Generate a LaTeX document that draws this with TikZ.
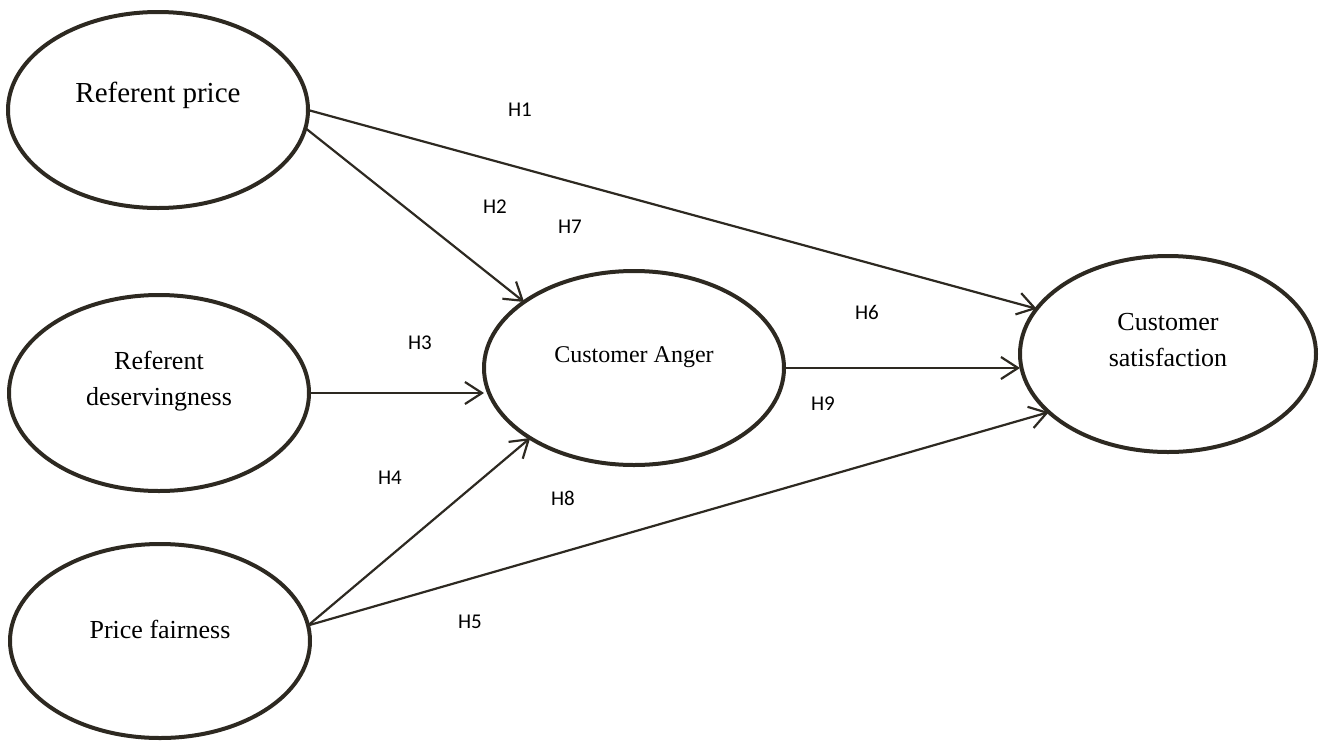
\documentclass[tikz,border=0pt]{standalone}
\usepackage{fontspec}
\setmainfont{Liberation Serif}
\newfontfamily\hfont{Carlito}
\usetikzlibrary{shapes.geometric,arrows.meta}
\definecolor{ink}{RGB}{45,41,33}
\tikzset{
  var/.style={ellipse,draw=ink,line width=4pt,inner sep=0pt,outer sep=0pt,
    minimum width=300pt,minimum height=196pt},
  vartext/.style={align=center,font=\fontsize{26}{36}\selectfont},
  hyp/.style={font=\hfont\fontsize{21}{25}\selectfont},
  link/.style={draw=ink,line width=2.2pt,->},
}
\begin{document}
\begin{tikzpicture}[x=1pt,y=-1pt,>={Straight Barb[length=17pt,width=22pt]},line join=bevel]
  \useasboundingbox (0,0) rectangle (1320,742);
  % Node: Referent price
  \node[var] (rp) at (158,110) {};
  \node[vartext,font=\fontsize{29}{35}\selectfont] at (158,95) {Referent price};
  % Node: Referent deservingness
  \node[var] (rd) at (159,393) {};
  \node[vartext] at (159,381) {Referent\\deservingness};
  % Node: Price fairness
  \node[var,minimum height=194pt] (pf) at (160,641) {};
  \node[vartext] at (160,629) {Price fairness};
  % Node: Customer Anger
  \node[var,minimum height=194pt] (ca) at (634,368) {};
  \node[vartext,font=\fontsize{24}{30}\selectfont] at (634,357) {Customer Anger};
  % Node: Customer satisfaction
  \node[var,minimum width=296pt] (cs) at (1168,354) {};
  \node[vartext] at (1168,340) {Customer\\satisfaction};
  % Edge: Referent price -> Customer satisfaction
  \draw[link] (rp.east) -- (cs.161);
  \node[hyp] at (520,110) {H1};
  % Edge: Referent price -> Customer Anger
  \draw[link] (rp.-7) -- (ca.149);
  \node[hyp] at (495,207) {H2};
  \node[hyp] at (570,227) {H7};
  % Edge: Referent deservingness -> Customer Anger
  \draw[link] (rd.east) -- (rd.east -| ca.west);
  \node[hyp] at (420,343) {H3};
  % Edge: Price fairness -> Customer Anger
  \draw[link] (pf.6) -- (ca.214);
  \node[hyp] at (390,478) {H4};
  \node[hyp] at (563,498) {H8};
  % Edge: Price fairness -> Customer satisfaction
  \draw[link] (pf.6) -- (cs.206);
  \node[hyp] at (470,622) {H5};
  % Edge: Customer Anger -> Customer satisfaction
  \draw[link] (ca.east) -- (ca.east -| cs.west);
  \node[hyp] at (867,312) {H6};
  \node[hyp] at (823,404) {H9};
\end{tikzpicture}
\end{document}
